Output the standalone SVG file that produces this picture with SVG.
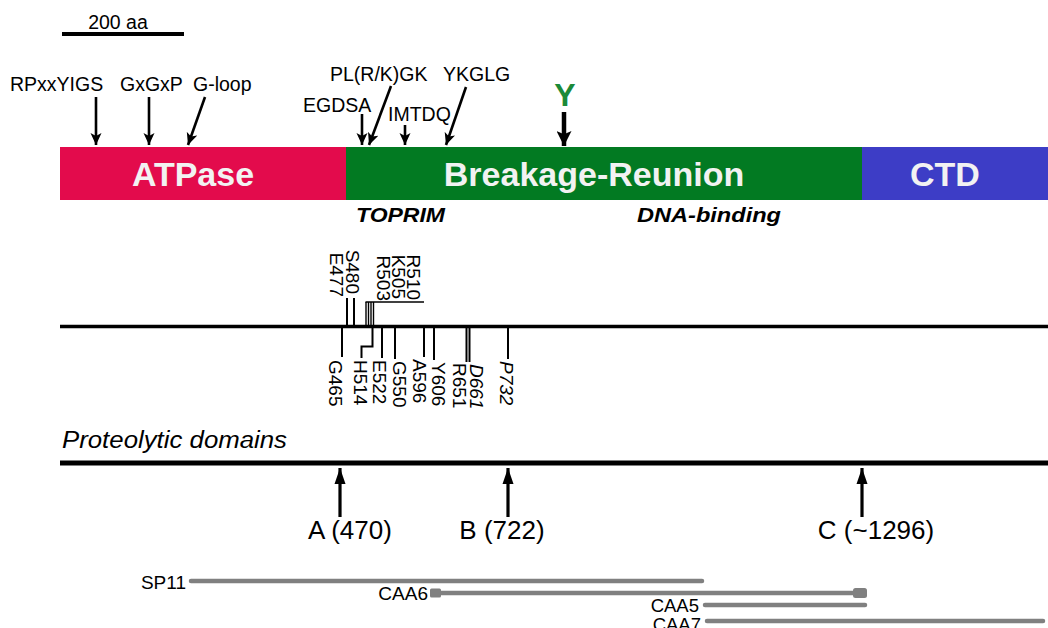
<svg xmlns="http://www.w3.org/2000/svg" width="1048" height="628" viewBox="0 0 1048 628">
<defs>
<style>
text{font-family:"Liberation Sans",Arial,sans-serif;fill:#000}
.lbl{font-size:19.5px}
.dom{font-size:34px;font-weight:bold;fill:#F2F2F2;text-anchor:middle}
.sub{font-size:20px;font-weight:bold;font-style:italic}
.mut{font-size:19px}
.pd{font-size:26px;text-anchor:middle}
.frag{font-size:19px;text-anchor:end}
.arr{stroke:#000;stroke-width:2.6;fill:none;marker-end:url(#ah)}
.tick{stroke:#000;stroke-width:2;fill:none}
.thin{stroke:#000;stroke-width:1.4;fill:none}
.up{stroke:#000;stroke-width:3.2;fill:none;marker-end:url(#ahU)}
.fr{stroke:#808080;stroke-width:4.5;stroke-linecap:round;fill:none}
</style>
<marker id="ah" viewBox="0 0 12 12" refX="12" refY="6" markerWidth="12" markerHeight="12" markerUnits="userSpaceOnUse" orient="auto"><path d="M0,0.5 L12,6 L0,11.5 L3,6 z" fill="#000"/></marker>
<marker id="ahY" viewBox="0 0 14 14" refX="14" refY="7" markerWidth="15" markerHeight="15" markerUnits="userSpaceOnUse" orient="auto"><path d="M0,0 L14,7 L0,14 L3,7 z" fill="#000"/></marker>
<marker id="ahU" viewBox="0 0 16 12" refX="16" refY="6" markerWidth="16" markerHeight="12" markerUnits="userSpaceOnUse" orient="auto"><path d="M0,0.5 L16,6 L0,11.5 z" fill="#000"/></marker>
</defs>

<g id="scalebar">
<line x1="62" y1="34" x2="184" y2="34" stroke="#000" stroke-width="4"/>
<text x="118" y="29" text-anchor="middle" style="font-size:19.5px">200 aa</text>
</g>

<g id="domains">
<rect x="60" y="147" width="286" height="53" fill="#E30B4C"/>
<rect x="346" y="147" width="516" height="53" fill="#027A22"/>
<rect x="862" y="147" width="186" height="53" fill="#3D3DC6"/>
<text class="dom" x="193" y="186">ATPase</text>
<text class="dom" x="594" y="186">Breakage-Reunion</text>
<text class="dom" x="945" y="186">CTD</text>
<text class="sub" x="356" y="222" textLength="89" lengthAdjust="spacingAndGlyphs">TOPRIM</text>
<text class="sub" x="637" y="222" textLength="144" lengthAdjust="spacingAndGlyphs">DNA-binding</text>
</g>

<g id="motifs">
<text class="lbl" x="10" y="91">RPxxYIGS</text>
<text class="lbl" x="120" y="91">GxGxP</text>
<text class="lbl" x="193" y="91">G-loop</text>
<text class="lbl" x="330" y="81">PL(R/K)GK</text>
<text class="lbl" x="443" y="81">YKGLG</text>
<text class="lbl" x="303" y="112">EGDSA</text>
<text class="lbl" x="388" y="121">IMTDQ</text>
<text x="565" y="106" text-anchor="middle" style="font-size:32px;font-weight:bold;fill:#1B8A38">Y</text>
</g>

<g id="connectors">
<line class="arr" x1="96" y1="97" x2="96" y2="145"/>
<line class="arr" x1="149" y1="97" x2="149" y2="145"/>
<line class="arr" x1="205" y1="97" x2="188" y2="145"/>
<line class="arr" x1="362" y1="114" x2="362" y2="145"/>
<line class="arr" x1="391" y1="86" x2="369" y2="145"/>
<line class="arr" x1="405" y1="125" x2="405" y2="145"/>
<line class="arr" x1="466" y1="87" x2="446" y2="145"/>
<line x1="564" y1="112" x2="564" y2="146" stroke="#000" stroke-width="4.5" marker-end="url(#ahY)"/>
<line class="up" x1="340" y1="517" x2="340" y2="468"/>
<line class="up" x1="508" y1="517" x2="508" y2="468"/>
<line class="up" x1="862" y1="517" x2="862" y2="468"/>
</g>

<g id="mutations">
<line x1="60" y1="326.5" x2="1048" y2="326.5" stroke="#000" stroke-width="3.5"/>
<line class="tick" x1="347" y1="298" x2="347" y2="326"/>
<line class="tick" x1="354" y1="298" x2="354" y2="326"/>
<line class="thin" x1="365.5" y1="302" x2="424" y2="302"/>
<line class="thin" x1="366" y1="302" x2="366" y2="326"/>
<line class="thin" x1="368.5" y1="302" x2="368.5" y2="326"/>
<line class="thin" x1="371" y1="302" x2="371" y2="326"/>
<line class="thin" x1="373.5" y1="302" x2="373.5" y2="326"/>
<text class="mut" transform="translate(330,297) rotate(90)" text-anchor="end">E477</text>
<text class="mut" transform="translate(346,294) rotate(90)" text-anchor="end">S480</text>
<text class="mut" transform="translate(377,301) rotate(90)" text-anchor="end">R503</text>
<text class="mut" transform="translate(392,299) rotate(90)" text-anchor="end">K505</text>
<text class="mut" transform="translate(407,300) rotate(90)" text-anchor="end">R510</text>

<line class="tick" x1="342" y1="327" x2="342" y2="357"/>
<path class="tick" d="M372.5,327 V346.5 H361.5 V358"/>
<line class="tick" x1="382" y1="327" x2="382" y2="358"/>
<line class="tick" x1="395" y1="327" x2="395" y2="359"/>
<line class="tick" x1="424" y1="327" x2="424" y2="357"/>
<line class="tick" x1="434" y1="327" x2="434" y2="360"/>
<line class="tick" x1="466.5" y1="327" x2="466.5" y2="362"/>
<line class="tick" x1="469.5" y1="327" x2="469.5" y2="362"/>
<line class="tick" x1="508" y1="327" x2="508" y2="359"/>
<text class="mut" transform="translate(329,360) rotate(90)">G465</text>
<text class="mut" transform="translate(354,360) rotate(90)">H514</text>
<text class="mut" transform="translate(373,360) rotate(90)">E522</text>
<text class="mut" transform="translate(393,361) rotate(90)">G550</text>
<text class="mut" transform="translate(413,359) rotate(90)">A596</text>
<text class="mut" transform="translate(432,362) rotate(90)">Y606</text>
<text class="mut" transform="translate(453,363) rotate(90)">R651</text>
<text class="mut" transform="translate(470,364) rotate(90)" style="font-style:italic">D661</text>
<text class="mut" transform="translate(500,361) rotate(90)" style="font-style:italic">P732</text>
</g>

<g id="proteolytic">
<text x="62" y="448" style="font-size:23px;font-style:italic" textLength="225" lengthAdjust="spacingAndGlyphs">Proteolytic domains</text>
<line x1="60" y1="463" x2="1048" y2="463" stroke="#000" stroke-width="5"/>
<text class="pd" x="350" y="539">A (470)</text>
<text class="pd" x="502" y="539">B (722)</text>
<text class="pd" x="876" y="539">C (~1296)</text>
</g>

<g id="fragments">
<text class="frag" x="186" y="589">SP11</text>
<line class="fr" x1="191" y1="581" x2="702" y2="581"/>
<text class="frag" x="428" y="600">CAA6</text>
<line class="fr" x1="434" y1="593" x2="864" y2="593"/>
<rect x="430" y="588.5" width="11" height="9" rx="1.5" fill="#808080"/>
<rect x="853" y="588" width="14" height="10" rx="2.5" fill="#808080"/>
<text class="frag" x="699" y="612" style="font-size:18.5px">CAA5</text>
<line class="fr" x1="705" y1="605" x2="865" y2="605"/>
<text class="frag" x="701" y="631" style="font-size:18.5px">CAA7</text>
<line class="fr" x1="707" y1="621" x2="1043" y2="621"/>
</g>
</svg>
